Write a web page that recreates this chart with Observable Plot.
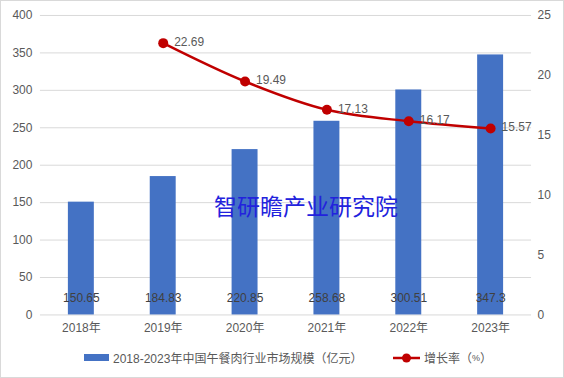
<!DOCTYPE html>
<html><head><meta charset="utf-8">
<script src="https://cdn.jsdelivr.net/npm/d3@7"></script>
<script src="https://cdn.jsdelivr.net/npm/@observablehq/plot@0.6"></script>
<style>
body{margin:0;background:#fff;}
#wrap{position:relative;width:562px;height:376px;border:1px solid #d9d9d9;overflow:hidden;font-family:"Liberation Sans","Noto Sans CJK SC",sans-serif;}
#chart{position:absolute;left:-1px;top:-1px;}
#wm{position:absolute;left:213px;top:193px;font-family:"Noto Sans CJK SC",sans-serif;font-size:23px;color:#2222dd;white-space:nowrap;line-height:1;}
#legend{position:absolute;left:0;top:339px;width:564px;height:38px;font-size:12px;color:#595959;font-family:"Liberation Sans","Noto Sans CJK SC",sans-serif;}
.li{position:absolute;top:9px;display:flex;align-items:center;white-space:nowrap;}
</style></head>
<body>
<div id="wrap">
<div id="chart"></div>
<div id="wm">智研瞻产业研究院</div>
<div id="legend">
  <div class="li" style="left:83px;"><span style="display:inline-block;width:25px;height:7px;background:#4472c4;margin-right:4px;"></span>2018-2023年中国午餐肉行业市场规模（亿元）</div>
  <div class="li" style="left:392px;"><svg width="27" height="12" style="margin-right:4px;"><line x1="0" y1="6" x2="27" y2="6" stroke="#c00000" stroke-width="2.5"/><circle cx="13.5" cy="6" r="4.5" fill="#c00000"/></svg>增长率（<span style="font-size:9px">%</span>）</div>
</div>
</div>
<script>
const years = ["2018年","2019年","2020年","2021年","2022年","2023年"];
const marketSize = [150.65,184.83,220.85,258.68,300.51,347.3];
const rateYears = ["2019年","2020年","2021年","2022年","2023年"];
const growthRate = [22.69,19.49,17.13,16.17,15.57];
const leftTicks = [0,50,100,150,200,250,300,350,400];
const rightTicks = [0,5,10,15,20,25];

const k = 400/25;
const bars = years.map((y,i)=>({year:y, value:marketSize[i]}));
const rates = rateYears.map((y,i)=>({year:y, rate:growthRate[i], scaled:growthRate[i]*k}));

const chart = Plot.plot({
  width:564, height:340,
  marginTop:15, marginBottom:25, marginLeft:40, marginRight:32,
  style:{fontSize:"12px", color:"#595959", fontFamily:"'Liberation Sans','Noto Sans CJK SC',sans-serif", background:"transparent"},
  x:{domain:years, paddingInner:0.68, paddingOuter:0.34, label:null},
  y:{domain:[0,400], label:null},
  marks:[
    Plot.gridY(leftTicks,{stroke:"#d9d9d9", strokeOpacity:1}),
    Plot.axisY(leftTicks,{tickSize:0, tickPadding:8, label:null, fill:"#595959"}),
    Plot.axisY(rightTicks.map(d=>d*k),{anchor:"right", tickSize:0, tickPadding:6, tickFormat:d=>d/k, label:null, fill:"#595959"}),
    Plot.axisX({tickSize:0, tickPadding:9, label:null, fill:"#595959"}),
    Plot.barY(bars,{x:"year", y:"value", fill:"#4472c4"}),
    Plot.text(bars,{x:"year", y:0, text:d=>String(d.value), dy:-17, fill:"#404040", fontSize:12}),
    Plot.line(rates,{x:"year", y:"scaled", stroke:"#c00000", strokeWidth:2.5, curve:"catmull-rom"}),
    Plot.dot(rates,{x:"year", y:"scaled", r:5, fill:"#c00000"}),
    Plot.text(rates,{x:"year", y:"scaled", text:d=>d.rate.toFixed(2), dx:11, dy:-1, textAnchor:"start", fill:"#595959", fontSize:12})
  ]
});
document.getElementById("chart").appendChild(chart);
</script>
</body></html>
